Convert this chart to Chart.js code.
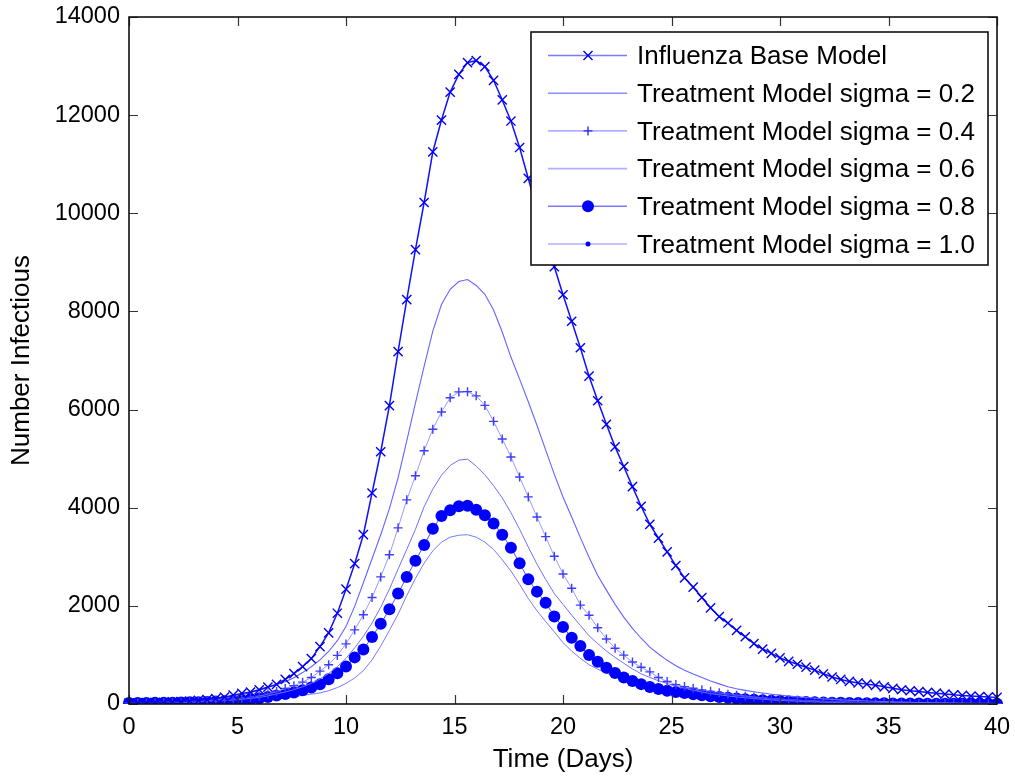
<!DOCTYPE html>
<html>
<head>
<meta charset="utf-8">
<script src="https://cdn.jsdelivr.net/npm/chart.js@4.4.1/dist/chart.umd.min.js"></script>
<style>
  html, body { margin: 0; padding: 0; background: #fff; }
  canvas { display: block; }
</style>
</head>
<body>
<canvas id="infChart" width="1015" height="777"></canvas>
<script>
// Time axis (days), one row of values per 4 days
const days = [
  0, 0.4, 0.8, 1.2, 1.6, 2, 2.4, 2.8, 3.2, 3.6,
  4, 4.4, 4.8, 5.2, 5.6, 6, 6.4, 6.8, 7.2, 7.6,
  8, 8.4, 8.8, 9.2, 9.6, 10, 10.4, 10.8, 11.2, 11.6,
  12, 12.4, 12.8, 13.2, 13.6, 14, 14.4, 14.8, 15.2, 15.6,
  16, 16.4, 16.8, 17.2, 17.6, 18, 18.4, 18.8, 19.2, 19.6,
  20, 20.4, 20.8, 21.2, 21.6, 22, 22.4, 22.8, 23.2, 23.6,
  24, 24.4, 24.8, 25.2, 25.6, 26, 26.4, 26.8, 27.2, 27.6,
  28, 28.4, 28.8, 29.2, 29.6, 30, 30.4, 30.8, 31.2, 31.6,
  32, 32.4, 32.8, 33.2, 33.6, 34, 34.4, 34.8, 35.2, 35.6,
  36, 36.4, 36.8, 37.2, 37.6, 38, 38.4, 38.8, 39.2, 39.6,
  40];

// Number infectious
const baseModel = [
  20, 23, 27, 31, 36, 43, 51, 60, 73, 88,
  110, 140, 180, 215, 245, 290, 345, 400, 500, 620,
  760, 925, 1170, 1450, 1850, 2340, 2860, 3450, 4300, 5140,
  6080, 7180, 8240, 9260, 10220, 11250, 11900, 12470, 12830, 13070,
  13110, 12990, 12710, 12310, 11880, 11340, 10710, 10080, 9490, 8910,
  8340, 7800, 7260, 6680, 6180, 5700, 5240, 4840, 4430, 4030,
  3660, 3380, 3100, 2820, 2570, 2380, 2170, 1960, 1780, 1650,
  1500, 1370, 1230, 1120, 1030, 940, 870, 810, 750, 690,
  615, 550, 500, 460, 430, 405, 380, 350, 320, 290,
  270, 253, 236, 220, 202, 188, 175, 163, 153, 144,
  135];

const sigma02 = [
  20, 22, 25, 29, 33, 38, 44, 52, 61, 73,
  90, 114, 146, 186, 232, 280, 336, 392, 456, 534,
  640, 760, 898, 1070, 1290, 1580, 1990, 2470, 2960, 3450,
  3980, 4610, 5360, 6130, 6880, 7600, 8140, 8450, 8610, 8650,
  8530, 8350, 8030, 7580, 7070, 6620, 6160, 5680, 5180, 4680,
  4220, 3810, 3390, 2990, 2620, 2320, 2030, 1770, 1540, 1340,
  1160, 1020, 890, 780, 690, 610, 540, 470, 410, 350,
  310, 278, 249, 223, 200, 180, 162, 146, 131, 117,
  105, 94, 85, 76, 68, 61, 55, 49, 44, 39,
  35, 31, 28, 25, 22, 20, 18, 16, 14, 13,
  11];

const sigma04 = [
  20, 22, 24, 27, 30, 34, 39, 45, 52, 60,
  70, 82, 97, 115, 136, 160, 204, 255, 315, 372,
  445, 540, 670, 800, 990, 1225, 1510, 1820, 2170, 2590,
  3040, 3590, 4160, 4650, 5160, 5600, 5950, 6240, 6360, 6365,
  6280, 6085, 5760, 5400, 5035, 4625, 4220, 3810, 3410, 3010,
  2650, 2360, 2015, 1810, 1555, 1325, 1135, 995, 855, 750,
  655, 540, 460, 395, 355, 320, 288, 258, 230, 200,
  180, 160, 141, 125, 110, 97, 86, 76, 67, 59,
  52, 46, 41, 36, 32, 29, 26, 23, 20, 18,
  16, 14, 13, 11, 10, 9, 8, 7, 7, 6,
  5];

const sigma06 = [
  20, 22, 23, 25, 28, 31, 35, 40, 45, 52,
  60, 70, 81, 96, 114, 135, 166, 205, 245, 292,
  350, 420, 510, 620, 760, 930, 1145, 1380, 1650, 1970,
  2340, 2750, 3150, 3560, 4020, 4380, 4660, 4860, 4970, 4990,
  4850, 4670, 4450, 4200, 3900, 3560, 3200, 2850, 2540, 2250,
  2030, 1810, 1600, 1390, 1230, 1080, 950, 830, 715, 615,
  540, 475, 418, 365, 320, 280, 244, 213, 188, 164,
  145, 126, 111, 97, 85, 75, 65, 57, 50, 44,
  38, 33, 29, 26, 23, 20, 17, 15, 13, 12,
  10, 9, 8, 8, 7, 6, 5, 5, 4, 4,
  3];

const sigma08 = [
  20, 21, 22, 24, 26, 28, 31, 34, 38, 43,
  49, 56, 65, 76, 92, 112, 142, 175, 205, 236,
  280, 335, 400, 505, 625, 765, 950, 1110, 1365, 1635,
  1930, 2250, 2590, 2920, 3240, 3570, 3830, 3950, 4030, 4040,
  3960, 3845, 3680, 3450, 3185, 2870, 2540, 2290, 2065, 1785,
  1570, 1350, 1180, 1000, 860, 740, 630, 540, 470, 405,
  345, 305, 270, 245, 222, 200, 178, 160, 142, 126,
  112, 99, 88, 77, 68, 60, 53, 47, 41, 36,
  32, 28, 25, 22, 19, 17, 15, 13, 11, 10,
  9, 8, 7, 7, 6, 5, 5, 4, 4, 3,
  3];

const sigma10 = [
  20, 21, 22, 23, 24, 26, 28, 31, 33, 37,
  41, 46, 52, 59, 68, 80, 94, 111, 130, 150,
  175, 200, 225, 270, 335, 420, 530, 680, 900, 1180,
  1500, 1830, 2210, 2560, 2870, 3120, 3300, 3400, 3440, 3450,
  3400, 3300, 3150, 2940, 2710, 2440, 2150, 1900, 1680, 1470,
  1250, 1080, 930, 800, 710, 630, 560, 490, 430, 375,
  330, 290, 254, 223, 196, 172, 152, 134, 118, 102,
  90, 80, 70, 61, 53, 47, 41, 36, 32, 28,
  24, 22, 19, 17, 15, 13, 11, 10, 9, 8,
  7, 6, 6, 5, 4, 4, 3, 3, 3, 2,
  2];

const seriesNames = ['Influenza Base Model', 'Treatment Model sigma = 0.2', 'Treatment Model sigma = 0.4',
  'Treatment Model sigma = 0.6', 'Treatment Model sigma = 0.8', 'Treatment Model sigma = 1.0'];

const xTicks = [0, 5, 10, 15, 20, 25, 30, 35, 40];
const yTicks = [0, 2000, 4000, 6000, 8000, 10000, 12000, 14000];

const FONT = '"Liberation Sans", Arial, Helvetica, sans-serif';

function pts(values) {
  return days.map((d, i) => ({ x: d, y: values[i] }));
}

function drawMarker(ctx, kind, x, y, color) {
  ctx.save();
  ctx.strokeStyle = color;
  ctx.fillStyle = color;
  ctx.lineWidth = 1.4;
  ctx.beginPath();
  if (kind === 'x') {
    ctx.moveTo(x - 4.5, y - 4.5); ctx.lineTo(x + 4.5, y + 4.5);
    ctx.moveTo(x - 4.5, y + 4.5); ctx.lineTo(x + 4.5, y - 4.5);
    ctx.stroke();
  } else if (kind === '+') {
    ctx.moveTo(x - 4.5, y); ctx.lineTo(x + 4.5, y);
    ctx.moveTo(x, y - 4.5); ctx.lineTo(x, y + 4.5);
    ctx.stroke();
  } else if (kind === 'o') {
    ctx.arc(x, y, 6, 0, Math.PI * 2);
    ctx.fill();
  } else if (kind === '.') {
    ctx.arc(x, y, 2.5, 0, Math.PI * 2);
    ctx.fill();
  }
  ctx.restore();
}

// box and inward ticks like a MATLAB axes
const axesFrame = {
  id: 'axesFrame',
  afterDatasetsDraw(chart) {
    const { ctx, chartArea: a, scales: { x, y } } = chart;
    const tl = 9;
    ctx.save();
    ctx.strokeStyle = '#333';
    ctx.lineWidth = 1.2;
    ctx.beginPath();
    xTicks.forEach(v => {
      const px = Math.round(x.getPixelForValue(v)) + 0.5;
      ctx.moveTo(px, a.bottom); ctx.lineTo(px, a.bottom - tl);
      ctx.moveTo(px, a.top); ctx.lineTo(px, a.top + tl);
    });
    yTicks.forEach(v => {
      const py = Math.round(y.getPixelForValue(v)) + 0.5;
      ctx.moveTo(a.left, py); ctx.lineTo(a.left + tl, py);
      ctx.moveTo(a.right, py); ctx.lineTo(a.right - tl, py);
    });
    ctx.stroke();
    ctx.strokeStyle = '#111';
    ctx.lineWidth = 1.6;
    ctx.strokeRect(a.left, a.top, a.right - a.left, a.bottom - a.top);
    ctx.restore();
  }
};

// legend box in the top right corner
const legendBox = {
  id: 'legendBox',
  afterDraw(chart) {
    const { ctx, chartArea: a } = chart;
    const w = 457, h = 233;
    const bx = a.right - 9 - w, by = a.top + 15;
    ctx.save();
    ctx.fillStyle = '#fff';
    ctx.fillRect(bx, by, w, h);
    ctx.strokeStyle = '#111';
    ctx.lineWidth = 1.6;
    ctx.strokeRect(bx, by, w, h);
    ctx.font = '26px ' + FONT;
    ctx.textBaseline = 'middle';
    chart.data.datasets.forEach((ds, i) => {
      const yy = by + 23.5 + i * 37.7;
      ctx.strokeStyle = ds.legendLine;
      ctx.lineWidth = 1.6;
      ctx.beginPath();
      ctx.moveTo(bx + 17, yy);
      ctx.lineTo(bx + 96, yy);
      ctx.stroke();
      if (ds.legendMarker) drawMarker(ctx, ds.legendMarker, bx + 57, yy, ds.markerColor);
      ctx.fillStyle = '#000';
      ctx.fillText(ds.label, bx + 106, yy + 1.5);
    });
    ctx.restore();
  }
};

const clipBox = { left: 8, right: 8, top: 8, bottom: 0 };

new Chart(document.getElementById('infChart'), {
  type: 'line',
  data: {
    datasets: [
      {
        label: seriesNames[0], data: pts(baseModel),
        borderColor: '#1010ff', borderWidth: 1.5,
        pointStyle: 'crossRot', pointRadius: 6.5, pointBorderWidth: 1.4,
        pointBorderColor: '#0000ee', pointBackgroundColor: '#0000ee',
        legendLine: '#7a7aff', legendMarker: 'x', markerColor: '#0000f0'
      },
      {
        label: seriesNames[1], data: pts(sigma02),
        borderColor: '#6464ff', borderWidth: 1.1, pointRadius: 0,
        legendLine: '#8c8cff', legendMarker: null, markerColor: null
      },
      {
        label: seriesNames[2], data: pts(sigma04),
        borderColor: '#9a9aff', borderWidth: 1,
        pointStyle: 'cross', pointRadius: 4.5, pointBorderWidth: 1.4,
        pointBorderColor: '#3c3cff', pointBackgroundColor: '#3c3cff',
        legendLine: '#b0b0ff', legendMarker: '+', markerColor: '#2a2aff'
      },
      {
        label: seriesNames[3], data: pts(sigma06),
        borderColor: '#7070ff', borderWidth: 1, pointRadius: 0,
        legendLine: '#b0b0ff', legendMarker: null, markerColor: null
      },
      {
        label: seriesNames[4], data: pts(sigma08),
        borderColor: '#5050ff', borderWidth: 1,
        pointStyle: 'circle', pointRadius: 6, pointBorderWidth: 0,
        pointBorderColor: '#0000ff', pointBackgroundColor: '#0000ff',
        legendLine: '#7a7aff', legendMarker: 'o', markerColor: '#0000ff'
      },
      {
        label: seriesNames[5], data: pts(sigma10),
        borderColor: '#7878ff', borderWidth: 1, pointRadius: 0,
        legendLine: '#b0b0ff', legendMarker: '.', markerColor: '#0000ff'
      }
    ].map(ds => Object.assign(ds, { tension: 0, fill: false, clip: clipBox }))
  },
  options: {
    responsive: false,
    animation: false,
    devicePixelRatio: 1,
    layout: { padding: { left: 0, right: 18, top: 17, bottom: 0 } },
    plugins: {
      legend: { display: false },
      tooltip: { enabled: false }
    },
    scales: {
      x: {
        type: 'linear', min: 0, max: 40,
        afterBuildTicks: s => { s.ticks = xTicks.map(v => ({ value: v })); },
        afterFit: s => { s.height = 73; s.paddingLeft = 0; s.paddingRight = 0; },
        grid: { display: false, drawTicks: false },
        border: { display: false },
        ticks: {
          color: '#000', padding: 9, maxRotation: 0,
          font: { family: FONT, size: 23.5 },
          callback: v => String(v)
        },
        title: {
          display: true, text: 'Time (Days)', color: '#000',
          padding: { top: 0, bottom: 1.5 }, font: { family: FONT, size: 26 }
        }
      },
      y: {
        min: 0, max: 14000,
        afterBuildTicks: s => { s.ticks = yTicks.map(v => ({ value: v })); },
        afterFit: s => { s.width = 129; s.paddingTop = 0; s.paddingBottom = 0; },
        grid: { display: false, drawTicks: false },
        border: { display: false },
        ticks: {
          color: '#000', padding: 9,
          font: { family: FONT, size: 23.5 },
          callback: v => String(v)
        },
        title: {
          display: true, text: 'Number Infectious', color: '#000',
          padding: { top: 6.5, bottom: 0 }, font: { family: FONT, size: 26 }
        }
      }
    }
  },
  plugins: [axesFrame, legendBox]
});
</script>
</body>
</html>
